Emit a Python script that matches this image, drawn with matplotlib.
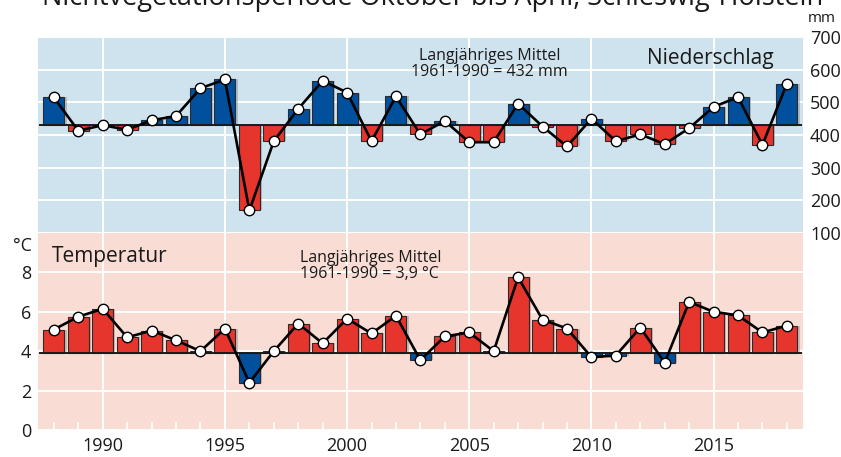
import matplotlib.pyplot as plt
import numpy as np

plt.rcParams['font.family'] = ['Open Sans', 'DejaVu Sans']

years = list(range(1988, 2019))

# Niederschlag Oktober-April in mm
niederschlag = [515, 413, 430, 416, 445, 458, 543, 570, 169, 381, 480,
                566, 530, 381, 518, 402, 443, 378, 378, 496, 426,
                365, 450, 381, 402, 372, 421, 486, 516, 370, 557]

# Mitteltemperatur Oktober-April in Grad C
temperatur = [5.1, 5.75, 6.15, 4.7, 5.05, 4.55, 4.0, 5.15, 2.4, 4.0, 5.4,
              4.4, 5.65, 4.9, 5.8, 3.55, 4.75, 4.95, 4.0, 7.75, 5.6,
              5.15, 3.7, 3.78, 5.2, 3.42, 6.5, 6.0, 5.82, 4.95, 5.3]

mittel_ns = 432
mittel_t = 3.9

blau = '#00509e'
rot = '#e5352d'
bg_oben = '#cfe3ef'
bg_unten = '#f9dcd3'

fig = plt.figure(figsize=(8.41, 4.57), dpi=100)
ax1 = fig.add_axes([38 / 841, 1 - 233 / 457, 765 / 841, 196 / 457])
ax2 = fig.add_axes([38 / 841, 1 - 430 / 457, 765 / 841, 197 / 457])

x = np.array(years)
w = 0.86
xlim = (1987.35, 2018.66)


def panel(ax, werte, mittel, farbe_plus, farbe_minus, bg):
    werte = np.array(werte, dtype=float)
    diff = werte - mittel
    farben = [farbe_plus if d >= 0 else farbe_minus for d in diff]
    ax.set_facecolor(bg)
    ax.set_xlim(*xlim)
    for s in ax.spines.values():
        s.set_visible(False)
    ax.grid(True, color='white', lw=1.4, zorder=0)
    ax.set_axisbelow(True)
    # leichter Schatten hinter den Balken
    ax.bar(x + 0.09, diff, bottom=mittel, width=w, color='#8a8a8a',
           alpha=0.45, lw=0, zorder=1)
    ax.bar(x, diff, bottom=mittel, width=w, color=farben,
           edgecolor='#2b2b2b', lw=0.8, zorder=2)
    ax.axhline(mittel, xmin=0.003, xmax=0.997, color='#1a1a1a', lw=1.4, zorder=3)
    ax.plot(x, werte, color='black', lw=1.9, zorder=4,
            marker='o', ms=7.5, mfc='white', mec='black', mew=1.0)


panel(ax1, niederschlag, mittel_ns, blau, rot, bg_oben)
panel(ax2, temperatur, mittel_t, rot, blau, bg_unten)

# oberes Diagramm: Niederschlag, Achse rechts
ax1.set_ylim(100, 700)
ax1.set_yticks(range(100, 701, 100))
ax1.yaxis.tick_right()
ax1.tick_params(axis='y', length=0, pad=5, labelsize=13, colors='#1a1a1a')
ax1.tick_params(axis='x', length=0, labelbottom=False)
ax1.set_xticks(range(1990, 2016, 5))
ax1.text(1.006, 1.055, 'mm', transform=ax1.transAxes, fontsize=11,
         ha='left', va='bottom', color='#1a1a1a')
ax1.text(0.59, 0.86, 'Langjähriges Mittel\n1961-1990 = 432 mm',
         transform=ax1.transAxes, fontsize=11.5, ha='center', va='center',
         linespacing=1.0, color='#1a1a1a')
ax1.text(0.962, 0.89, 'Niederschlag', transform=ax1.transAxes, fontsize=15,
         ha='right', va='center', color='#1a1a1a')

# unteres Diagramm: Temperatur, Achse links
ax2.set_ylim(0, 10)
ax2.set_yticks([0, 2, 4, 6, 8])
ax2.set_xticks(range(1990, 2016, 5))
ax2.set_xticks(years, minor=True)
ax2.tick_params(axis='y', length=0, pad=5, labelsize=13, colors='#1a1a1a')
ax2.tick_params(axis='x', which='major', length=0, pad=5, labelsize=13,
                colors='#1a1a1a')
ax2.tick_params(axis='x', which='minor', direction='in', length=6,
                width=1.2, color='white')
ax2.text(-0.008, 0.935, '°C', transform=ax2.transAxes, fontsize=13,
         ha='right', va='center', color='#1a1a1a')
ax2.text(0.018, 0.88, 'Temperatur', transform=ax2.transAxes, fontsize=15,
         ha='left', va='center', color='#1a1a1a')
ax2.text(0.342, 0.835, 'Langjähriges Mittel\n1961-1990 = 3,9 °C',
         transform=ax2.transAxes, fontsize=11.5, ha='left', va='center',
         linespacing=1.0, color='#1a1a1a')

# Titel, oben angeschnitten
fig.text(0.515, 1 - 5 / 457, 'Nichtvegetationsperiode Oktober bis April, Schleswig-Holstein',
         ha='center', va='baseline', fontsize=19.5, color='#1a1a1a')

fig.savefig('out.png', dpi=100)
